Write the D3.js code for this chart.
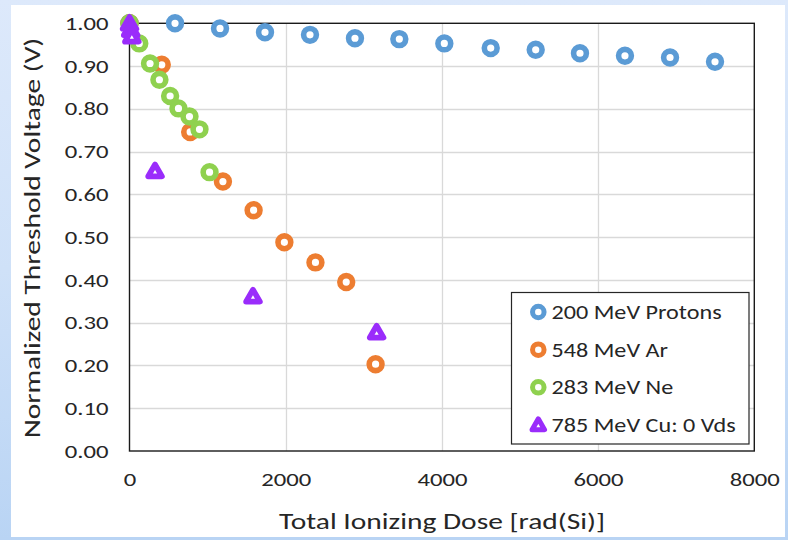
<!DOCTYPE html>
<html>
<head>
<meta charset="utf-8">
<script src="https://cdn.jsdelivr.net/npm/d3@7"></script>
<style>
  html, body { margin: 0; padding: 0; }
  body {
    width: 788px; height: 540px; overflow: hidden;
    background: linear-gradient(to bottom, #dde9fb 0%, #cfe1f8 50%, #b9d4f4 100%);
  }
  svg { position: absolute; left: 0; top: 0; }
  text { font-family: Calibri, Carlito, Lato, "Open Sans", sans-serif; fill: #262626; }
</style>
</head>
<body>
<svg id="chart" width="788" height="540"></svg>
<script>
// Threshold voltage (normalized) versus total ionizing dose, rad(Si)
const protonDose = [0, 583, 1159, 1735, 2311, 2887, 3455, 4031, 4625, 5201, 5768, 6344, 6921, 7497];
const protonVt   = [1.000, 1.000, 0.988, 0.979, 0.973, 0.965, 0.963, 0.953, 0.942, 0.938, 0.930, 0.924, 0.920, 0.910];

const argonDose = [0, 413, 777, 1196, 1589, 1983, 2381, 2775, 3151];
const argonVt   = [1.000, 0.903, 0.746, 0.630, 0.563, 0.488, 0.441, 0.395, 0.203];

const neonDose = [0, 125, 263, 383, 520, 627, 768, 896, 1025];
const neonVt   = [1.000, 0.953, 0.906, 0.868, 0.830, 0.801, 0.782, 0.752, 0.652];

const copperDose = [0, 15, 30, 327, 1581, 3164];
const copperVt   = [1.000, 0.985, 0.970, 0.655, 0.362, 0.278];

const seriesNames = ["200 MeV Protons", "548 MeV Ar", "283 MeV Ne", "785 MeV Cu: 0 Vds"];
const xTicks = [0, 2000, 4000, 6000, 8000];
const yTicks = [0, 0.1, 0.2, 0.3, 0.4, 0.5, 0.6, 0.7, 0.8, 0.9, 1.0];
const xTitle = "Total Ionizing Dose [rad(Si)]";
const yTitle = "Normalized Threshold Voltage (V)";

const series = [
  { name: seriesNames[0], dose: protonDose, vt: protonVt, color: "#5b9bd5", shape: "circle" },
  { name: seriesNames[1], dose: argonDose,  vt: argonVt,  color: "#ed7d31", shape: "circle" },
  { name: seriesNames[2], dose: neonDose,   vt: neonVt,   color: "#8fd14f", shape: "circle" },
  { name: seriesNames[3], dose: copperDose, vt: copperVt, color: "#9a2cfb", shape: "triangle" }
];

const svg = d3.select("#chart");

// white chart panel
svg.append("rect").attr("x", 11).attr("y", 5).attr("width", 774).attr("height", 532).attr("fill", "#ffffff");

const margin = { left: 129.5, top: 23.3, right: 33.7, bottom: 89 };
const W = 788, H = 540;
const x = d3.scaleLinear().domain([0, 8000]).range([margin.left, W - margin.right]);
const y = d3.scaleLinear().domain([0, 1]).range([H - margin.bottom, margin.top]);

// wide text: glyphs stretched along the reading direction
const SX_TICK = 1.3, SX_TITLE = 1.34, SX_LEGEND = 1.24;

// gridlines
const grid = svg.append("g");
grid.selectAll("line.h").data(yTicks.slice(1, -1)).join("line")
  .attr("x1", x(0)).attr("x2", x(8000))
  .attr("y1", d => Math.round(y(d)) + 0.5).attr("y2", d => Math.round(y(d)) + 0.5)
  .attr("stroke", "#d9d9d9").attr("stroke-width", 1.3);
grid.selectAll("line.v").data(xTicks.slice(1, -1)).join("line")
  .attr("y1", y(0)).attr("y2", y(1))
  .attr("x1", d => Math.round(x(d)) + 0.5).attr("x2", d => Math.round(x(d)) + 0.5)
  .attr("stroke", "#d9d9d9").attr("stroke-width", 1.3);

// axes (labels only; frame drawn as a box)
const xPad = 22, yPad = 21;
const xAxis = svg.append("g").attr("transform", `translate(0,${y(0)})`)
  .call(d3.axisBottom(x).tickValues(xTicks).tickSize(0).tickPadding(xPad).tickFormat(d3.format("d")));
const yAxis = svg.append("g").attr("transform", `translate(${x(0)},0)`)
  .call(d3.axisLeft(y).tickValues(yTicks).tickSize(0).tickPadding(yPad).tickFormat(d3.format(".2f")));
[xAxis, yAxis].forEach(a => {
  a.select(".domain").remove();
  a.selectAll("text").attr("font-size", 19).attr("fill", "#262626")
    .style("font-family", "Calibri, Carlito, Lato, sans-serif");
});
xAxis.selectAll("text").attr("transform", `scale(${SX_TICK},1)`);
yAxis.selectAll("text").attr("x", 0).attr("transform", `translate(${-yPad},0) scale(${SX_TICK},1)`);

// plot frame
svg.append("rect")
  .attr("x", x(0)).attr("y", y(1)).attr("width", x(8000) - x(0)).attr("height", y(0) - y(1))
  .attr("fill", "none").attr("stroke", "#1a1a1a").attr("stroke-width", 1.4);

// axis titles
svg.append("text").attr("transform", `translate(442,529) scale(${SX_TITLE},1)`).attr("text-anchor", "middle")
  .attr("font-size", 22).text(xTitle);
svg.append("text").attr("transform", `translate(39.5,238) rotate(-90) scale(${SX_TITLE},1)`).attr("text-anchor", "middle")
  .attr("font-size", 22).text(yTitle);

// marker shapes
const ringR = 6.4, ringW = 5.6;
const triR = 8.0, triW = 5.6;
function triPath(r) {
  const pts = [[0, -r], [r * Math.sqrt(3) / 2, r / 2], [-r * Math.sqrt(3) / 2, r / 2]];
  return "M" + pts.map(p => p.join(",")).join("L") + "Z";
}
function drawMarker(g, s, cx, cy, k) {
  if (s.shape === "circle") {
    g.append("circle").attr("cx", cx).attr("cy", cy).attr("r", ringR * k)
      .attr("fill", "#ffffff").attr("stroke", s.color).attr("stroke-width", ringW * k);
  } else {
    g.append("path").attr("d", triPath(triR * k))
      .attr("transform", `translate(${cx},${cy + 1.5 * k})`)
      .attr("fill", "#ffffff").attr("stroke", s.color)
      .attr("stroke-width", triW * k).attr("stroke-linejoin", "round");
  }
}

const marks = svg.append("g");
series.forEach(s => {
  const g = marks.append("g");
  s.dose.forEach((d, i) => drawMarker(g, s, x(d), y(s.vt[i]), 1));
});

// legend
const lg = svg.append("g");
lg.append("rect").attr("x", 511.5).attr("y", 292.5).attr("width", 237.5).attr("height", 151.5)
  .attr("fill", "#ffffff").attr("stroke", "#262626").attr("stroke-width", 1.2);
const legendY = [312, 349.7, 387.3, 424.7];
series.forEach((s, i) => {
  drawMarker(lg, s, 538.3, legendY[i], 0.9);
  lg.append("text").attr("transform", `translate(551.5,${legendY[i]}) scale(${SX_LEGEND},1)`)
    .attr("dy", "0.35em").attr("font-size", 19.5).text(s.name);
});
</script>
</body>
</html>
